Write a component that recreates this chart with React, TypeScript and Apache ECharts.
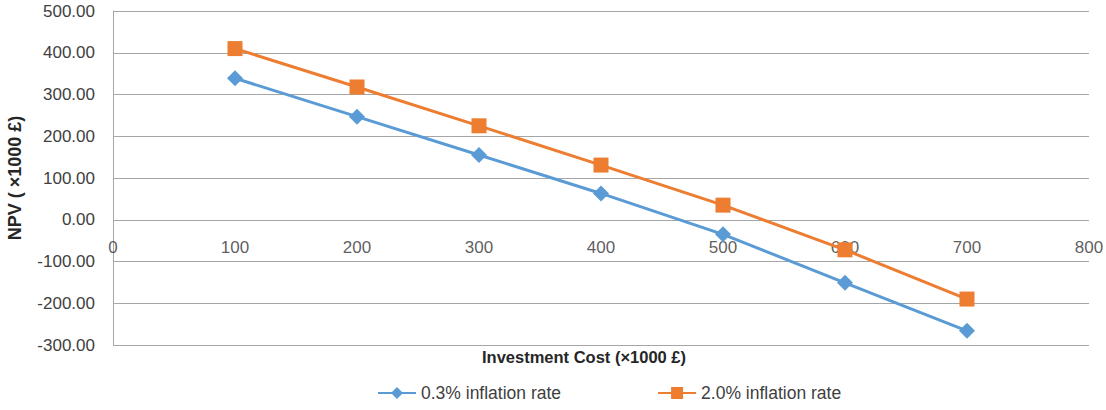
import React, { useEffect, useRef } from "react";
import * as echarts from "echarts";

const investmentCost = [100, 200, 300, 400, 500, 600, 700];
const npvLowInflation = [339, 247, 155, 63, -35, -151, -266];
const npvHighInflation = [410, 318, 225, 131, 35, -72, -190];
const xTickLabels = [0, 100, 200, 300, 400, 500, 600, 700, 800];
const seriesNames = ["0.3% inflation rate", "2.0% inflation rate"];
const xTitle = "Investment Cost (×1000 £)";
const yTitle = "NPV ( ×1000 £)";

const FONT = "Liberation Sans";

export default function App() {
  const ref = useRef<HTMLDivElement>(null);
  useEffect(() => {
    if (!ref.current) return;
    const chart = echarts.init(ref.current, undefined, { renderer: "svg" });
    chart.setOption({
      animation: false,
      textStyle: { fontFamily: FONT },
      grid: {
        left: 113,
        right: 17,
        top: 11,
        bottom: 65,
        containLabel: false,
        outerBoundsMode: "none",
      },
      legend: {
        bottom: 3,
        left: 372,
        itemGap: 96,
        itemWidth: 38,
        itemHeight: 15,
        textStyle: { fontSize: 17.5, color: "#404040", fontFamily: FONT },
        data: seriesNames,
      },
      graphic: [
        {
          type: "text",
          left: 482,
          top: 348,
          style: {
            text: xTitle,
            font: `bold 16.5px "${FONT}"`,
            fill: "#262626",
          },
        },
      ],
      xAxis: {
        type: "value",
        min: 0,
        max: 800,
        interval: 100,
        axisLine: { show: false },
        axisTick: { show: false },
        splitLine: { show: false },
        axisLabel: { show: false },
      },
      yAxis: {
        type: "value",
        min: -300,
        max: 500,
        interval: 100,
        name: yTitle,
        nameLocation: "middle",
        nameGap: 89,
        nameRotate: 90,
        nameMoveOverlap: false,
        nameTextStyle: { fontSize: 18, fontWeight: "bold", color: "#262626", fontFamily: FONT },
        axisLine: { show: true, onZero: false, lineStyle: { color: "#a6a6a6", width: 1 } },
        axisTick: { show: false },
        splitLine: { show: true, lineStyle: { color: "#a6a6a6", width: 1 } },
        axisLabel: {
          fontSize: 17,
          color: "#404040",
          margin: 18,
          fontFamily: FONT,
          formatter: (v: number) => v.toFixed(2),
        },
      },
      series: [
        {
          name: "xTicks",
          type: "scatter",
          silent: true,
          symbolSize: 1,
          itemStyle: { color: "rgba(0,0,0,0)" },
          data: xTickLabels.map((v) => [v, 0]),
          label: {
            show: true,
            position: "bottom",
            distance: 19,
            fontSize: 17,
            color: "#333333",
            fontFamily: FONT,
            formatter: (p: any) => String(p.value[0]),
          },
          z: 1,
        },
        {
          name: seriesNames[0],
          type: "line",
          data: investmentCost.map((x, i) => [x, npvLowInflation[i]]),
          symbol: "diamond",
          symbolSize: 16,
          itemStyle: { color: "#5b9bd5" },
          lineStyle: { color: "#5b9bd5", width: 3 },
          z: 3,
        },
        {
          name: seriesNames[1],
          type: "line",
          data: investmentCost.map((x, i) => [x, npvHighInflation[i]]),
          symbol: "rect",
          symbolSize: 15,
          itemStyle: { color: "#ed7d31" },
          lineStyle: { color: "#ed7d31", width: 3 },
          z: 4,
        },
      ],
    });
    return () => chart.dispose();
  }, []);
  return (
    <div
      ref={ref}
      style={{ position: "absolute", left: 0, top: 0, width: 1106, height: 410 }}
    />
  );
}
